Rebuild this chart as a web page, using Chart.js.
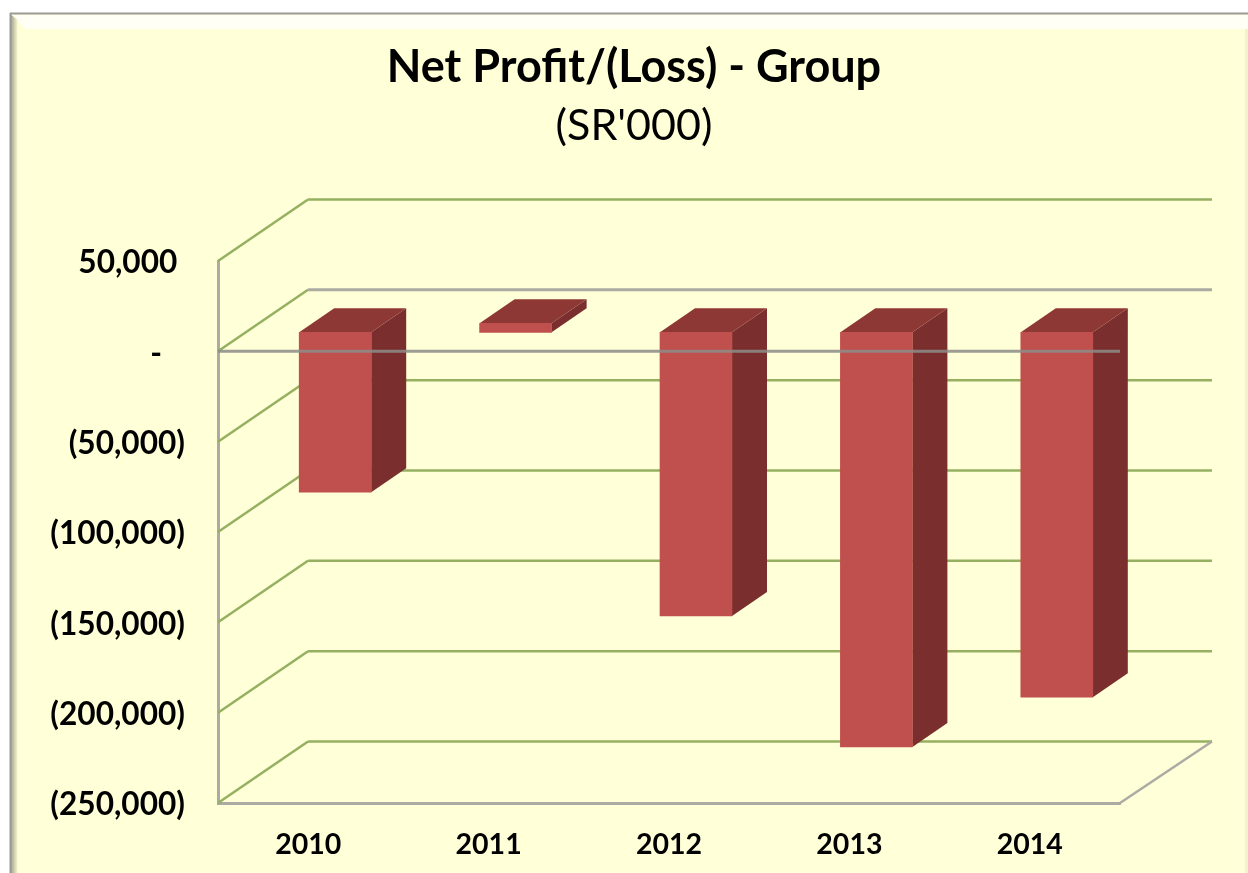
<!DOCTYPE html>
<html>
<head>
<meta charset="utf-8">
<title>Net Profit/(Loss) - Group</title>
<script src="https://cdn.jsdelivr.net/npm/chart.js@4/dist/chart.umd.min.js"></script>
<style>
html, body { margin: 0; padding: 0; background: #fff; overflow: hidden; }
canvas { display: block; }
</style>
</head>
<body>
<canvas id="profitChart" width="1248" height="873"></canvas>
<script>
const years = ['2010', '2011', '2012', '2013', '2014'];
const netProfit = [-88500, 5000, -157000, -229500, -202000];
const tickValues = [50000, 0, -50000, -100000, -150000, -200000, -250000];
const tickLabels = ['50,000\u00a0', '-\u00a0\u00a0\u00a0', '(50,000)', '(100,000)', '(150,000)', '(200,000)', '(250,000)'];

const FONT = 'Lato, Carlito, "Open Sans", sans-serif';
const GREEN = '#95B060';
const GREY = '#ABABA3';

// 3D look: the back wall sits up and to the right of the front plane
const WALL_DX = 90;
const WALL_DY = 61.5;
const WALL_RIGHT = 92;
// bars stand part way into the floor
const BAR_DX = 27;
const BAR_DY = -19;
const DEPTH_DX = 35;
const DEPTH_DY = -24;

function line(ctx, x1, y1, x2, y2, color, width) {
    ctx.strokeStyle = color;
    ctx.lineWidth = width;
    ctx.beginPath();
    ctx.moveTo(x1, y1);
    ctx.lineTo(x2, y2);
    ctx.stroke();
}

function poly(ctx, points, color) {
    ctx.fillStyle = color;
    ctx.beginPath();
    points.forEach((p, i) => i ? ctx.lineTo(p[0], p[1]) : ctx.moveTo(p[0], p[1]));
    ctx.closePath();
    ctx.fill();
}

const framePlugin = {
    id: 'frame',
    afterLayout(chart) {
        // tick labels are wider than the axis box, stop them being clipped
        chart.scales.y.left = 0;
    },
    beforeDraw(chart) {
        const { ctx, width, height } = chart;
        ctx.save();
        ctx.fillStyle = '#fff';
        ctx.fillRect(0, 0, width, height);
        ctx.fillStyle = '#FFFFD8';
        ctx.fillRect(10, 14, width - 10, height - 14);

        // top bevel
        poly(ctx, [[11, 15], [width, 15], [width, 29], [26, 29]], '#FFFFF6');
        // left bevel
        const left = ctx.createLinearGradient(10, 0, 18, 0);
        left.addColorStop(0, '#9A9A90');
        left.addColorStop(0.5, '#C9C9A8');
        left.addColorStop(1, '#FFFFD8');
        poly(ctx, [[10, 14], [18, 20], [18, height], [10, height]], left);
        // right edge
        ctx.fillStyle = '#F2F2CE';
        ctx.fillRect(width - 3, 29, 3, height - 29);

        line(ctx, 10, 13.5, width, 13.5, '#9A9A96', 2);
        line(ctx, 10.5, 13, 10.5, height, '#9A9A96', 2);
        ctx.restore();
    }
};

const wallsPlugin = {
    id: 'walls',
    beforeDatasetsDraw(chart) {
        const { ctx } = chart;
        const { x, y } = chart.scales;
        ctx.save();
        tickValues.forEach(v => {
            const py = y.getPixelForValue(v);
            line(ctx, x.left, py, x.left + WALL_DX, py - WALL_DY, GREEN, 2.5);
            line(ctx, x.left + WALL_DX, py - WALL_DY, x.right + WALL_RIGHT, py - WALL_DY, v === 0 ? GREY : GREEN, v === 0 ? 3 : 2.5);
        });
        const bottom = y.getPixelForValue(-250000);
        line(ctx, x.right, bottom, x.right + WALL_RIGHT, bottom - WALL_DY, GREY, 2.5);
        ctx.restore();
    },
    afterDatasetsDraw(chart) {
        // the zero line passes in front of the bars
        const { ctx } = chart;
        const { x, y } = chart.scales;
        const zero = y.getPixelForValue(0);
        ctx.save();
        line(ctx, x.left, zero, x.right, zero, 'rgba(140,140,135,0.85)', 3);
        ctx.restore();
    }
};

const depthPlugin = {
    id: 'depth',
    beforeDatasetDraw(chart, args) {
        const { ctx } = chart;
        ctx.save();
        ctx.translate(BAR_DX, BAR_DY);
        args.meta.data.forEach(bar => {
            const p = bar.getProps(['x', 'y', 'base', 'width'], true);
            const l = p.x - p.width / 2;
            const r = p.x + p.width / 2;
            const top = Math.min(p.y, p.base);
            const bottom = Math.max(p.y, p.base);
            poly(ctx, [[r, top], [r + DEPTH_DX, top + DEPTH_DY], [r + DEPTH_DX, bottom + DEPTH_DY], [r, bottom]], '#7A2F2E');
            poly(ctx, [[l, top], [l + DEPTH_DX, top + DEPTH_DY], [r + DEPTH_DX, top + DEPTH_DY], [r, top]], '#8E3836');
        });
    },
    afterDatasetDraw(chart) {
        chart.ctx.restore();
    }
};

new Chart(document.getElementById('profitChart'), {
    type: 'bar',
    data: {
        labels: years,
        datasets: [{
            label: 'Net Profit/(Loss)',
            data: netProfit,
            backgroundColor: '#C0504D',
            borderWidth: 0,
            barThickness: 72,
            clip: false
        }]
    },
    options: {
        responsive: false,
        animation: false,
        events: [],
        layout: {
            padding: { left: 148, right: 128, top: 0, bottom: 0 }
        },
        plugins: {
            legend: { display: false },
            tooltip: { enabled: false },
            title: {
                display: true,
                text: 'Net Profit/(Loss) - Group',
                color: '#000',
                font: { family: FONT, size: 45, weight: 'bold', lineHeight: 1.2 },
                padding: { top: 40, bottom: 6 }
            },
            subtitle: {
                display: true,
                text: "(SR'000)",
                color: '#000',
                font: { family: FONT, size: 43, weight: 'normal', lineHeight: 1.2 },
                padding: { top: 0, bottom: 109.4 }
            }
        },
        scales: {
            x: {
                grid: { display: false, drawTicks: false },
                border: { display: true, color: GREY, width: 3 },
                ticks: {
                    color: '#000',
                    padding: 25,
                    maxRotation: 0,
                    font: { family: FONT, size: 28.5, weight: 'bold' }
                },
                afterFit(scale) { scale.height = 70; }
            },
            y: {
                min: -250000,
                max: 50000,
                grid: { display: false, drawTicks: false },
                border: { display: true, color: GREY, width: 3 },
                ticks: {
                    stepSize: 50000,
                    color: '#000',
                    padding: 33,
                    labelOffset: 2,
                    font: { family: FONT, size: 31.6, weight: 'bold' },
                    callback: value => tickLabels[tickValues.indexOf(value)]
                },
                afterFit(scale) { scale.width = 70; }
            }
        }
    },
    plugins: [framePlugin, wallsPlugin, depthPlugin]
});
</script>
</body>
</html>
